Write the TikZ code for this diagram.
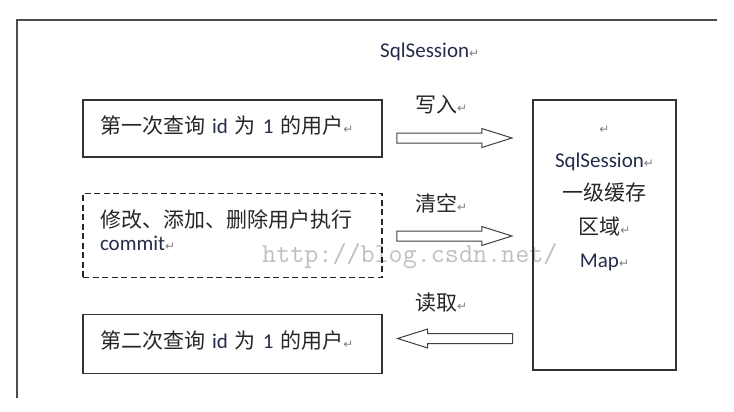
\documentclass[tikz,border=0pt]{standalone}
\usepackage{fontspec}
\setmainfont{Carlito}
\newfontfamily\cjk{Noto Sans CJK SC}
\newfontfamily\dejavu{DejaVu Sans}
\usetikzlibrary{positioning, shapes.arrows}

\definecolor{inkblue}{RGB}{35,45,75}
\newcommand{\zh}[1]{{\cjk #1}}
\newcommand{\en}[1]{\textcolor{inkblue}{#1}}
\newcommand{\parmark}{{\dejavu\fontsize{12}{12}\selectfont\textcolor{black!50}{↵}}}

\begin{document}
\begin{tikzpicture}[x=1pt, y=-1pt,
    query/.style={draw=black!80, line width=1.1pt, text width=265pt, inner xsep=17pt, inner ysep=0pt,
        align=left, text height=15pt, text depth=6pt, font=\fontsize{21}{23}\selectfont, text=black!85},
    fat arrow/.style={single arrow, draw=black!75, line width=1pt, fill=white, inner xsep=0pt,
        inner ysep=4.5pt, single arrow head extend=4.5pt, single arrow tip angle=35, minimum height=115pt},
    tag/.style={anchor=base west, inner sep=0pt, font=\fontsize{21}{23}\selectfont, text=black!85}]
    \useasboundingbox (0,0) rectangle (734,412);
    \draw[black!70, line width=1.1pt] (717,20) -- (17,20) -- (17,398);

    \node[tag] (title) at (380,58) {\en{SqlSession}\parmark};

    \node[query, minimum height=57pt]                (first)  at (232.5,128.5) {\zh{第一次查询} \en{id} \zh{为} \en{1} \zh{的用户}\parmark};
    \node[query, minimum height=84pt, draw=black!85, line width=1.2pt, dash pattern=on 6pt off 3.5pt,
          text height=10pt, text depth=26pt, below=35pt of first] (change) {\zh{修改、添加、删除用户执行}\\\en{commit}\parmark};
    \node[query, minimum height=59pt, below=36pt of change] (second) {\zh{第二次查询} \en{id} \zh{为} \en{1} \zh{的用户}\parmark};

    \node[draw=black!80, line width=1.1pt, minimum width=143pt, minimum height=270pt, text width=143pt,
          inner sep=0pt, align=center, text height=10pt, text depth=213pt,
          font=\fontsize{21}{33.5}\selectfont, text=black!85] (cache) at (604.5,235)
          {\parmark\\\en{SqlSession}\parmark\\\zh{一级缓存}\\\zh{区域}\parmark\\\en{Map}\parmark};

    \node[fat arrow]                          (write) at (446.5,138) {};
    \node[fat arrow]                          (clear) at (446.5,236) {};
    \node[fat arrow, shape border rotate=180] (read)  at (463,338.5) {};

    \node[tag] (write tag) at (415,112) {\zh{写入}\parmark};
    \node[tag] (clear tag) at (415,211) {\zh{清空}\parmark};
    \node[tag] (read tag)  at (415,310) {\zh{读取}\parmark};

    \node[anchor=base west, inner sep=0pt, font=\ttfamily\fontsize{27.3}{28}\selectfont, text=black,
          text opacity=0.25] (mark) at (262,262) {http://blog.csdn.net/};
\end{tikzpicture}
\end{document}
